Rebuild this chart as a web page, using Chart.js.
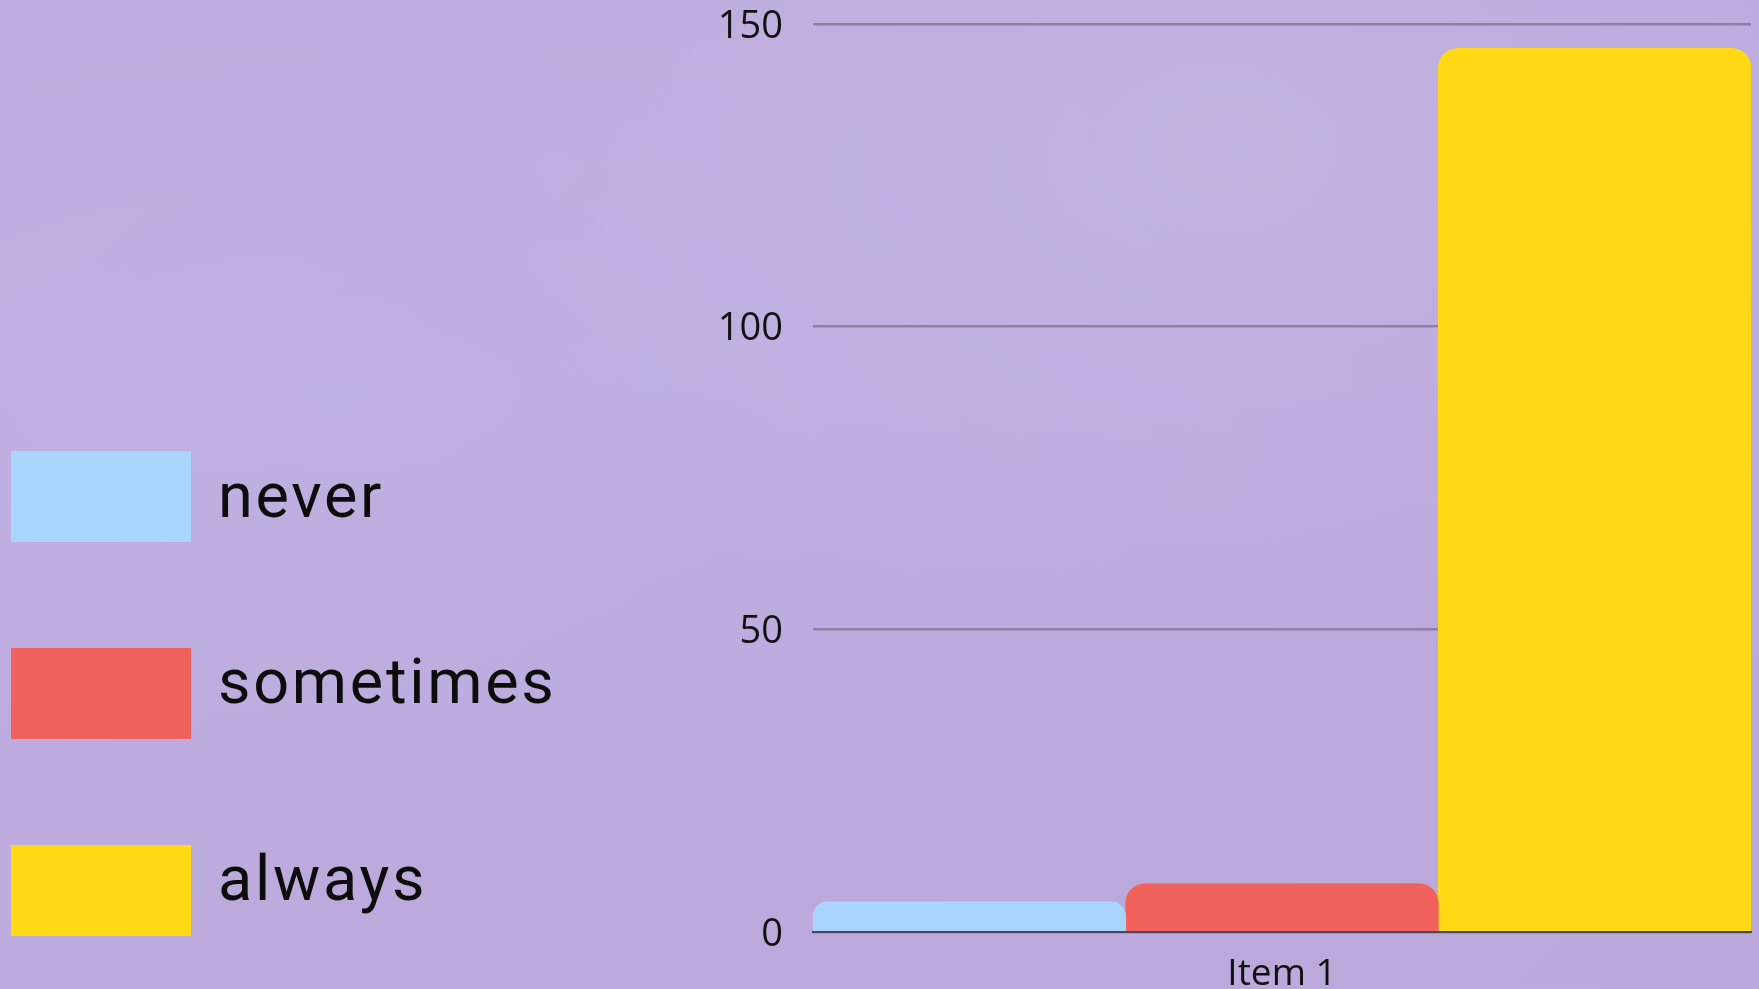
<!DOCTYPE html>
<html>
<head>
<meta charset="utf-8">
<title>never / sometimes / always</title>
<script src="https://cdn.jsdelivr.net/npm/chart.js@4/dist/chart.umd.min.js"></script>
<style>
  html, body { margin: 0; padding: 0; overflow: hidden; }
  body {
    width: 1759px;
    height: 989px;
    background:
      radial-gradient(ellipse at 70% 15%, rgba(200, 190, 230, 0.45), rgba(200, 190, 230, 0) 45%),
      radial-gradient(ellipse at 20% 40%, rgba(192, 180, 228, 0.5), rgba(192, 180, 228, 0) 55%),
      linear-gradient(135deg, #bfaedf 0%, #bcaadd 50%, #bba9dc 100%);
    position: relative;
  }
  #chart-wrap { position: absolute; left: 0; top: 0; width: 1759px; height: 989px; }
  #legend { position: absolute; left: 11px; top: 451px; }
  .legend-item { display: flex; align-items: center; height: 91px; margin-bottom: 106px; }
  .legend-box { width: 180px; height: 91px; }
  .legend-text {
    position: relative;
    top: -12px;
    margin-left: 27px;
    font-family: Roboto, sans-serif;
    font-size: 63px;
    line-height: 91px;
    letter-spacing: 2.7px;
    color: #0c0c0c;
  }
  .legend-item:first-child .legend-text { top: -1px; }
</style>
</head>
<body>
<div id="chart-wrap"><canvas id="barChart"></canvas></div>
<div id="legend"></div>
<script>
// Data
const categories = ['Item 1'];
const seriesLabels = ['never', 'sometimes', 'always'];
const seriesValues = [5, 8, 146];
const seriesColors = ['#a9d4fd', '#f2625c', '#ffd914'];
const yTicks = [0, 50, 100, 150];

function buildLegend() {
    const legend = document.getElementById('legend');
    seriesLabels.forEach((label, i) => {
        const item = document.createElement('div');
        item.className = 'legend-item';
        const box = document.createElement('div');
        box.className = 'legend-box';
        box.style.background = seriesColors[i];
        const text = document.createElement('span');
        text.className = 'legend-text';
        text.innerText = label;
        item.appendChild(box);
        item.appendChild(text);
        legend.appendChild(item);
    });
}

function renderChart() {
    const ctx = document.getElementById('barChart').getContext('2d');
    new Chart(ctx, {
        type: 'bar',
        data: {
            labels: categories,
            datasets: seriesLabels.map((label, i) => ({
                label: label,
                data: [seriesValues[i]],
                backgroundColor: seriesColors[i],
                borderRadius: 20,
                categoryPercentage: 1,
                barPercentage: 1
            }))
        },
        options: {
            responsive: true,
            maintainAspectRatio: false,
            animation: false,
            layout: { padding: { left: 693, right: 8, top: 24, bottom: 0 } },
            plugins: {
                legend: { display: false },
                tooltip: { enabled: false }
            },
            scales: {
                x: {
                    grid: { display: false, drawTicks: false },
                    border: { display: true, color: '#4a4560', width: 2 },
                    ticks: { font: { family: '"Open Sans", sans-serif', size: 37 }, color: '#111', padding: 20 },
                    afterFit: (scale) => { scale.height = 57; }
                },
                y: {
                    min: yTicks[0],
                    max: yTicks[yTicks.length - 1],
                    afterBuildTicks: (scale) => { scale.ticks = yTicks.map(v => ({ value: v })); },
                    afterFit: (scale) => {
                        scale.width = 120;
                        scale.paddingTop = 0;
                        scale.paddingBottom = 0;
                    },
                    grid: { color: '#8e7fa9', lineWidth: 2.5, drawTicks: false },
                    border: { display: false },
                    ticks: { font: { family: '"Open Sans", sans-serif', size: 38 }, color: '#111', padding: 30, labelOffset: 3 }
                }
            }
        }
    });
}

buildLegend();
renderChart();
</script>
</body>
</html>
